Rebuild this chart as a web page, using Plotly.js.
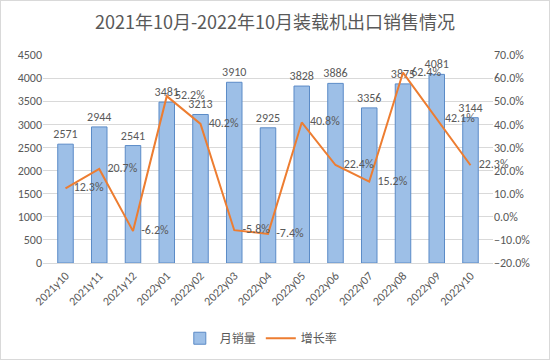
<!DOCTYPE html>
<html><head><meta charset="utf-8">
<script src="https://cdn.plot.ly/plotly-3.0.1.min.js"></script>
<style>html,body{margin:0;padding:0;background:#fff;}
#c{width:548px;height:358px;border:1px solid #d9d9d9;}</style>
</head><body><div id="c"></div>
<script>
const categories = ["2021y10","2021y11","2021y12","2022y01","2022y02","2022y03","2022y04","2022y05","2022y06","2022y07","2022y08","2022y09","2022y10"];
const monthlySales = [2571,2944,2541,3481,3213,3910,2925,3828,3886,3356,3875,4081,3144];
const growthRate = [12.3,20.7,-6.2,52.2,40.2,-5.8,-7.4,40.8,22.4,15.2,62.4,42.1,22.3];
const titleText = "2021年10月-2022年10月装载机出口销售情况";

const font = "Calibri, 'Liberation Sans', 'Noto Sans CJK SC', sans-serif";
const grey = "#595959";
const traces = [
  {type:"bar", name:"月销量", x:categories, y:monthlySales,
   marker:{color:"#9dbfe7", line:{color:"#5b8bc7", width:1}},
   text:monthlySales.map(String), textposition:"outside", cliponaxis:false, constraintext:"none",
   textfont:{color:grey, size:12, family:font}},
  {type:"scatter", mode:"lines+text", name:"增长率", x:categories, y:growthRate, yaxis:"y2",
   line:{color:"#ed7d31", width:2},
   text:growthRate.map(v=>"   "+v.toFixed(1)+"%"), textposition:"middle right", cliponaxis:false,
   textfont:{color:grey, size:12, family:font}}
];
const layout = {
  width:548, height:358,
  margin:{l:42, r:56, t:54, b:96, autoexpand:false},
  paper_bgcolor:"#fff", plot_bgcolor:"#fff",
  font:{family:font, color:grey, size:12},
  title:{text:titleText, x:0.5, xanchor:"center", y:0.94, yanchor:"middle",
         font:{size:18, color:grey, family:"'Noto Sans CJK SC', sans-serif"}},
  bargap:0.54,
  showlegend:true,
  legend:{orientation:"h", xref:"container", x:0.475, xanchor:"center", yref:"container", y:0.058, yanchor:"middle",
          itemwidth:30, font:{size:12, color:grey, family:"'Noto Sans CJK SC', sans-serif"}},
  xaxis:{type:"category", tickangle:-45, showgrid:false, showline:true, linecolor:"#d9d9d9",
         ticks:"", tickfont:{size:12, color:grey}},
  yaxis:{range:[0,4500], dtick:500, showgrid:true, gridcolor:"#d9d9d9", zeroline:false,
         tickfont:{size:12, color:grey}, ticks:"", fixedrange:true},
  yaxis2:{overlaying:"y", side:"right", range:[-20,70], dtick:10, showgrid:false, zeroline:false,
          tickformat:".1f", ticksuffix:"%", tickfont:{size:12, color:grey}}
};
Plotly.newPlot("c", traces, layout, {displayModeBar:false, staticPlot:true});
</script></body></html>
